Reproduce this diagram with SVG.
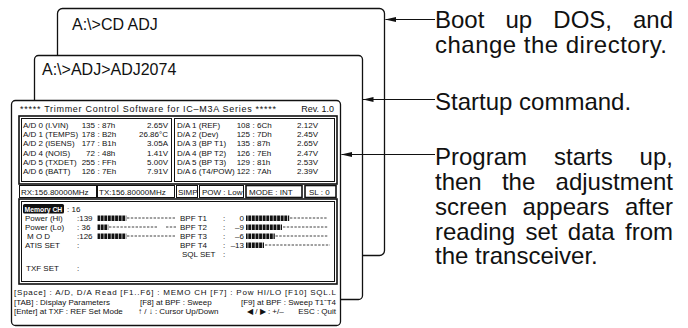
<svg xmlns="http://www.w3.org/2000/svg" width="688" height="328" viewBox="0 0 688 328">
<style>
.win{fill:#fff;stroke:#111;stroke-width:1.3}
.cmd{font-family:"Liberation Sans",Arial,sans-serif;font-size:16px;fill:#111}
.lbl{font-family:"Liberation Sans",Arial,sans-serif;font-size:24px;fill:#111}
.t{font-family:"Liberation Sans",Arial,sans-serif;font-size:8px;fill:#111}
.ti{font-family:"Liberation Sans",Arial,sans-serif;font-size:9px;fill:#111}
.e{text-anchor:end}
.box{fill:none;stroke:#111;stroke-width:1}
.fr{fill:none;stroke:#111;stroke-width:1.6}
.dash{stroke:#111;stroke-width:0.8;stroke-dasharray:2.4 1.4;fill:none}
.conn{stroke:#111;stroke-width:1.1;fill:none}
</style>
<defs>
<marker id="ah" markerWidth="11" markerHeight="6" refX="10.5" refY="3" orient="auto" markerUnits="userSpaceOnUse">
<path d="M0,0.6 L11,3 L0,5.4 Z" fill="#111"/>
</marker>
<pattern id="seg" width="3.6" height="10" patternUnits="userSpaceOnUse">
<rect x="0" y="0" width="2.9" height="10" fill="#111"/>
</pattern>
</defs>
<rect width="688" height="328" fill="#fff"/>

<g id="window-dos">
<rect class="win" x="57.5" y="8.5" width="327" height="247" rx="5"/>
<text class="cmd" x="72" y="30">A:\&gt;CD ADJ</text>
</g>

<g id="window-startup">
<rect class="win" x="34.5" y="55.5" width="328" height="244" rx="4"/>
<text class="cmd" x="42" y="75">A:\&gt;ADJ&gt;ADJ2074</text>
</g>

<g id="window-program">
<rect class="win" x="11.5" y="100.5" width="329" height="225" rx="4"/>
<text class="ti" x="20" y="112" textLength="256" lengthAdjust="spacing">***** Trimmer Control Software for IC–M3A Series *****</text>
<text class="ti e" x="334" y="112">Rev. 1.0</text>

<rect class="fr" x="19" y="116" width="318" height="68"/>
<rect class="box" x="21.5" y="118.5" width="150" height="63"/>
<rect class="box" x="174.5" y="118.5" width="160" height="63"/>

<g class="t">
<text x="23" y="128">A/D 0 (I.VIN)</text><text class="e" x="95" y="128">135</text><text x="97.5" y="128">: 87h</text><text class="e" x="168" y="128">2.65V</text>
<text x="23" y="137.2">A/D 1 (TEMPS)</text><text class="e" x="95" y="137.2">178</text><text x="97.5" y="137.2">: B2h</text><text class="e" x="168" y="137.2">26.86°C</text>
<text x="23" y="146.4">A/D 2 (ISENS)</text><text class="e" x="95" y="146.4">177</text><text x="97.5" y="146.4">: B1h</text><text class="e" x="168" y="146.4">3.05A</text>
<text x="23" y="155.6">A/D 4 (NOIS)</text><text class="e" x="95" y="155.6">72</text><text x="97.5" y="155.6">: 48h</text><text class="e" x="168" y="155.6">1.41V</text>
<text x="23" y="164.8">A/D 5 (TXDET)</text><text class="e" x="95" y="164.8">255</text><text x="97.5" y="164.8">: FFh</text><text class="e" x="168" y="164.8">5.00V</text>
<text x="23" y="174">A/D 6 (BATT)</text><text class="e" x="95" y="174">126</text><text x="97.5" y="174">: 7Eh</text><text class="e" x="168" y="174">7.91V</text>

<text x="177" y="128">D/A 1 (REF)</text><text class="e" x="250" y="128">108</text><text x="252.5" y="128">: 6Ch</text><text class="e" x="318" y="128">2.12V</text>
<text x="177" y="137.2">D/A 2 (Dev)</text><text class="e" x="250" y="137.2">125</text><text x="252.5" y="137.2">: 7Dh</text><text class="e" x="318" y="137.2">2.45V</text>
<text x="177" y="146.4">D/A 3 (BP T1)</text><text class="e" x="250" y="146.4">135</text><text x="252.5" y="146.4">: 87h</text><text class="e" x="318" y="146.4">2.65V</text>
<text x="177" y="155.6">D/A 4 (BP T2)</text><text class="e" x="250" y="155.6">126</text><text x="252.5" y="155.6">: 7Eh</text><text class="e" x="318" y="155.6">2.47V</text>
<text x="177" y="164.8">D/A 5 (BP T3)</text><text class="e" x="250" y="164.8">129</text><text x="252.5" y="164.8">: 81h</text><text class="e" x="318" y="164.8">2.53V</text>
<text x="177" y="174">D/A 6 (T4/POW)</text><text class="e" x="250" y="174">122</text><text x="252.5" y="174">: 7Ah</text><text class="e" x="318" y="174">2.39V</text>
</g>

<rect class="box" x="19.5" y="185.5" width="77" height="12"/>
<rect class="box" x="97.5" y="185.5" width="77" height="12"/>
<rect class="box" x="176.5" y="185.5" width="21" height="12"/>
<rect class="box" x="199.5" y="185.5" width="44" height="12"/>
<rect class="fr" x="246" y="185.5" width="56" height="12"/>
<rect class="fr" x="305" y="185.5" width="31" height="12"/>
<g class="t">
<text x="21" y="194.5">RX:156.80000MHz</text>
<text x="99" y="194.5">TX:156.80000MHz</text>
<text x="178" y="194.5">SIMP</text>
<text x="202" y="194.5">POW : Low</text>
<text x="249" y="194.5">MODE : INT</text>
<text x="309" y="194.5">SL : 0</text>
</g>

<rect class="fr" x="19" y="199" width="318" height="85"/>
<rect class="box" x="21.5" y="201.5" width="313" height="80"/>

<rect x="23" y="204" width="41" height="9.5" rx="1.5" fill="#111"/>
<text x="24.5" y="211.6" style="font-family:'Liberation Sans',Arial,sans-serif;font-size:6.8px;font-weight:bold;fill:#fff">Memory CH</text>
<g class="t">
<text x="67" y="212">: 16</text>
<text x="25" y="221">Power (Hi)</text><text x="77" y="221">:139</text>
<text x="25" y="230">Power (Lo)</text><text x="77" y="230">: 36</text>
<text x="27" y="239">M O D</text><text x="77" y="239">:126</text>
<text x="25" y="248">ATIS SET</text><text x="77" y="248">:</text>
<text x="26" y="271">TXF SET</text><text x="77" y="271">:</text>

<text x="180" y="221">BPF T1</text><text x="223" y="221">:</text><text class="e" x="244" y="221">0</text>
<text x="180" y="230">BPF T2</text><text x="223" y="230">:</text><text class="e" x="244" y="230">–9</text>
<text x="180" y="239">BPF T3</text><text x="223" y="239">:</text><text class="e" x="244" y="239">–6</text>
<text x="180" y="248">BPF T4</text><text x="223" y="248">:</text><text class="e" x="244" y="248">–13</text>
<text x="182" y="257">SQL SET</text><text x="223" y="257">:</text>
</g>

<rect x="97.5" y="215.5" width="28.8" height="5.5" fill="url(#seg)"/>
<rect x="97.5" y="224.5" width="10.8" height="5.5" fill="url(#seg)"/>
<rect x="97.5" y="233.5" width="28.8" height="5.5" fill="url(#seg)"/>
<path class="dash" d="M127,218 H176 M109,227 H157 M166,227 H176 M127,236 H176"/>

<rect x="246" y="215.5" width="43.2" height="5.5" fill="url(#seg)"/>
<rect x="246" y="224.5" width="36" height="5.5" fill="url(#seg)"/>
<rect x="246" y="233.5" width="28.8" height="5.5" fill="url(#seg)"/>
<rect x="246" y="242.5" width="18" height="5.5" fill="url(#seg)"/>
<path class="dash" d="M290,218 H328 M283,227 H328 M275.5,236 H328 M265,245 H330"/>

<g class="t">
<text x="14" y="295" textLength="322" lengthAdjust="spacing">[Space] : A/D, D/A Read [F1..F6] : MEMO CH [F7] : Pow HI/LO [F10] SQL.L</text>
<text x="14" y="304.5">[TAB] : Display Parameters</text>
<text x="140" y="304.5">[F8] at BPF : Sweep</text>
<text class="e" x="336" y="304.5">[F9] at BPF : Sweep T1˜T4</text>
<text x="14" y="314">[Enter] at TXF : REF Set Mode</text>
<text x="138" y="314">↑ / ↓ : Cursor Up/Down</text>
<text x="247" y="314">◀ / ▶ : +/–</text>
<text class="e" x="336" y="314">ESC : Quit</text>
</g>
</g>

<g id="connectors">
<line class="conn" x1="435" y1="19.5" x2="385.5" y2="19.5" marker-end="url(#ah)"/>
<line class="conn" x1="435" y1="99.5" x2="363" y2="99.5" marker-end="url(#ah)"/>
<line class="conn" x1="435" y1="154.5" x2="341.5" y2="154.5" marker-end="url(#ah)"/>
</g>

<g id="label-boot" class="lbl">
<text y="28"><tspan x="435">Boot</tspan><tspan x="505.5">up</tspan><tspan x="553.3">DOS,</tspan><tspan x="633">and</tspan></text>
<text x="435" y="53" textLength="232" lengthAdjust="spacing">change the directory.</text>
</g>
<g id="label-startup" class="lbl">
<text x="435" y="110">Startup command.</text>
</g>
<g id="label-program" class="lbl">
<text y="165"><tspan x="435">Program</tspan><tspan x="554">starts</tspan><tspan x="639.6">up,</tspan></text>
<text y="190"><tspan x="435">then</tspan><tspan x="501.9">the</tspan><tspan x="555.6">adjustment</tspan></text>
<text y="215"><tspan x="435">screen</tspan><tspan x="522.6">appears</tspan><tspan x="625">after</tspan></text>
<text y="239.5"><tspan x="435">reading</tspan><tspan x="525.4">set</tspan><tspan x="567.8">data</tspan><tspan x="625">from</tspan></text>
<text x="435" y="264">the transceiver.</text>
</g>
</svg>
